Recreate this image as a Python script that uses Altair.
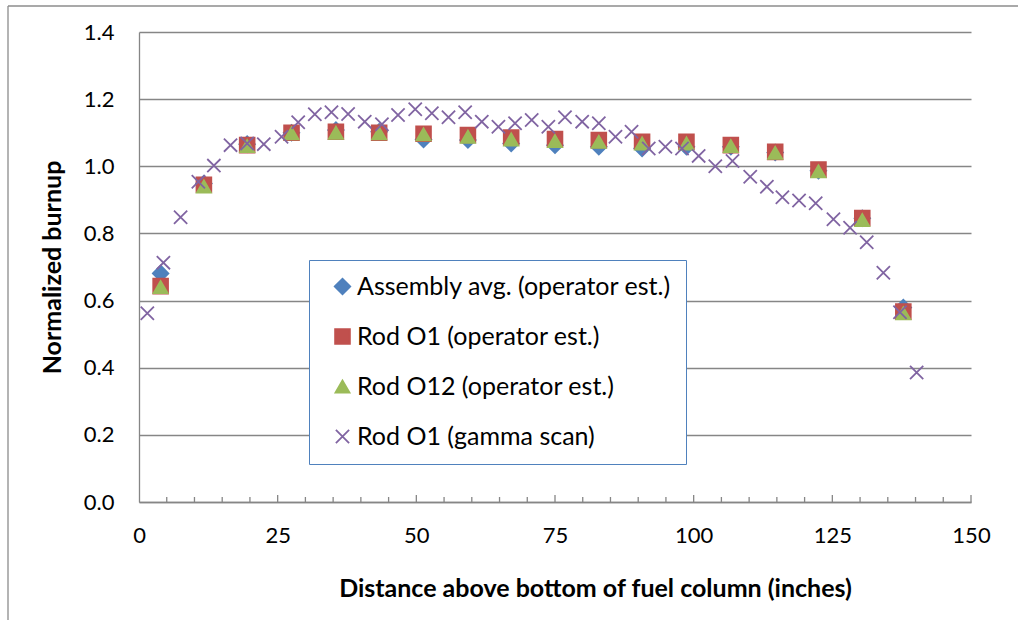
import altair as alt
import pandas as pd

# Series names and marker styling
series_names = [
    "Assembly avg. (operator est.)",
    "Rod O1 (operator est.)",
    "Rod O12 (operator est.)",
    "Rod O1 (gamma scan)",
]
series_colors = ["#4F81BD", "#C0504D", "#9BBB59", "#8064A2"]
series_shapes = ["diamond", "square", "triangle-up", "M-1,-1L1,1M1,-1L-1,1"]
series_sizes = [240, 175, 190, 170]

# Operator estimates (axial node centres, inches)
op_x = [3.9, 11.7, 19.5, 27.5, 35.5, 43.3, 51.3, 59.3, 67.1, 75.0,
        82.9, 90.7, 98.7, 106.7, 114.7, 122.5, 130.4, 137.8]
assembly_avg = [0.681, 0.949, 1.066, 1.100, 1.108, 1.103, 1.080, 1.078, 1.068, 1.063,
                1.058, 1.053, 1.058, 1.058, 1.041, 0.987, 0.845, 0.579]
rod_o1_est = [0.643, 0.945, 1.063, 1.100, 1.103, 1.100, 1.097, 1.093, 1.086, 1.081,
              1.078, 1.073, 1.073, 1.063, 1.043, 0.990, 0.846, 0.567]
rod_o12_est = [0.640, 0.940, 1.060, 1.098, 1.100, 1.098, 1.095, 1.088, 1.080, 1.075,
               1.073, 1.068, 1.068, 1.060, 1.040, 0.985, 0.840, 0.562]

# Gamma scan of rod O1
gamma_x = [1.5, 4.4, 7.5, 10.7, 13.5, 16.5, 19.5, 22.5, 25.7, 28.7,
           31.7, 34.7, 37.7, 40.7, 43.8, 46.7, 49.8, 52.8, 55.8, 58.8,
           61.8, 64.8, 67.8, 70.8, 73.8, 76.8, 79.9, 82.9, 85.9, 88.8,
           91.9, 94.9, 97.9, 100.9, 103.9, 107.0, 110.2, 113.2, 116.0, 119.0,
           122.0, 125.2, 128.2, 131.2, 134.2, 137.2, 140.2]
gamma_y = [0.562, 0.713, 0.848, 0.954, 1.002, 1.063, 1.068, 1.066, 1.088, 1.131,
           1.155, 1.161, 1.156, 1.133, 1.125, 1.153, 1.170, 1.158, 1.146, 1.161,
           1.133, 1.118, 1.128, 1.138, 1.118, 1.146, 1.133, 1.128, 1.088, 1.103,
           1.053, 1.058, 1.053, 1.031, 1.000, 1.016, 0.969, 0.939, 0.908, 0.898,
           0.890, 0.842, 0.817, 0.774, 0.683, 0.565, 0.386]

x_ticks = [0, 25, 50, 75, 100, 125, 150]
x_minor_ticks = [v for v in range(5, 150, 5) if v % 25 != 0]
x_major_ticks = [25, 50, 75, 100, 125, 150]
y_ticks = [0.0, 0.2, 0.4, 0.6, 0.8, 1.0, 1.2, 1.4]

rows = []
for name, xs, ys in [
    (series_names[0], op_x, assembly_avg),
    (series_names[1], op_x, rod_o1_est),
    (series_names[2], op_x, rod_o12_est),
    (series_names[3], gamma_x, gamma_y),
]:
    rows += [{"series": name, "pos": x, "burnup": y} for x, y in zip(xs, ys)]
df = pd.DataFrame(rows)

W, H = 832, 470
FONT = "Lato"
GRAY = "#868686"

x_enc = alt.X(
    "pos:Q",
    scale=alt.Scale(domain=[0, 150], nice=False, zero=False),
    axis=alt.Axis(
        values=x_ticks, grid=False, ticks=False,
        domainColor=GRAY, domainWidth=1.3,
        labelFont=FONT, labelFontSize=22, labelColor="black", labelPadding=23,
        labelFlush=False,
        title="Distance above bottom of fuel column (inches)",
        titleFont=FONT, titleFontSize=25, titleFontWeight="bold", titleColor="black",
        titleX=456, titleY=86, titleAlign="center", titleBaseline="middle",
    ),
)
y_enc = alt.Y(
    "burnup:Q",
    scale=alt.Scale(domain=[0, 1.4], nice=False),
    axis=alt.Axis(
        values=y_ticks, format=".1f", ticks=False,
        grid=True, gridColor=GRAY, gridWidth=1.3,
        domainColor=GRAY, domainWidth=1.3,
        labelFont=FONT, labelFontSize=22, labelColor="black", labelPadding=25,
        title="Normalized burnup",
        titleFont=FONT, titleFontSize=25, titleFontWeight="bold", titleColor="black",
        titleX=-87, titleY=235, titleAlign="center", titleBaseline="middle",
    ),
)

points = alt.Chart(df).mark_point(filled=True, opacity=1, strokeWidth=1.8).encode(
    x=x_enc,
    y=y_enc,
    color=alt.Color(
        "series:N",
        scale=alt.Scale(domain=series_names, range=series_colors),
        legend=alt.Legend(
            title=None, orient="none", legendX=170, legendY=228,
            fillColor="white", strokeColor="#4F81BD",
            padding=14, symbolOffset=7, labelOffset=2, rowPadding=24,
            labelFont=FONT, labelFontSize=25, labelColor="black", labelLimit=500,
            symbolStrokeWidth=1.8, symbolOpacity=1,
        ),
    ),
    stroke=alt.Stroke("series:N", scale=alt.Scale(domain=series_names, range=series_colors)),
    shape=alt.Shape("series:N", scale=alt.Scale(domain=series_names, range=series_shapes)),
    size=alt.Size("series:N", scale=alt.Scale(domain=series_names, range=series_sizes)),
)

minor = alt.Chart(pd.DataFrame({"t": x_minor_ticks})).mark_rule(
    color=GRAY, strokeWidth=1.3
).encode(x=alt.X("t:Q"), y=alt.value(H), y2=alt.value(H - 5))

major = alt.Chart(pd.DataFrame({"t": x_major_ticks})).mark_rule(
    color=GRAY, strokeWidth=1.3
).encode(x=alt.X("t:Q"), y=alt.value(H), y2=alt.value(H - 7))

frame_src = pd.DataFrame({"k": [0]})
frame_left = alt.Chart(frame_src).mark_rule(color="#8c8c8c", strokeWidth=1.3).encode(
    x=alt.value(-131), y=alt.value(-26), y2=alt.value(600)
)
frame_top = alt.Chart(frame_src).mark_rule(color="#8c8c8c", strokeWidth=1.3).encode(
    x=alt.value(-131), x2=alt.value(900), y=alt.value(-26)
)

chart = alt.layer(frame_left, frame_top, minor, major, points).properties(
    width=W, height=H,
    autosize=alt.AutoSizeParams(type="none"),
    padding={"left": 139, "top": 32, "right": 47, "bottom": 118},
    background="white",
).configure_view(stroke=None)

chart.save("out.html", embed_options={"renderer": "svg", "actions": False})
